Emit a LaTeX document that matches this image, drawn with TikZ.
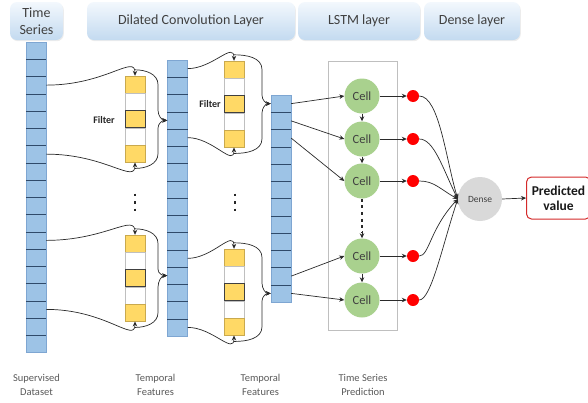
\documentclass[tikz,border=0pt]{standalone}
\usepackage{fontspec}
\setmainfont{Carlito}
\usetikzlibrary{arrows.meta,shadows,calc}

\definecolor{bluecell}{HTML}{9DC3E6}
\definecolor{blueedge}{HTML}{7EA6D2}
\definecolor{bluesep}{HTML}{2F4A6A}
\definecolor{yellowcell}{HTML}{FFD966}
\definecolor{yellowedge}{HTML}{C9A94E}
\definecolor{greyedge}{HTML}{BFBFBF}
\definecolor{cellgreen}{HTML}{A9D18E}
\definecolor{densegrey}{HTML}{D9D9D9}
\definecolor{hdrtop}{HTML}{F3F8FD}
\definecolor{hdrbot}{HTML}{C3DAF0}
\definecolor{txtdark}{HTML}{404040}
\definecolor{txtgrey}{HTML}{595959}
\definecolor{wire}{HTML}{2A2A2A}
\definecolor{predred}{HTML}{D42A2A}

% brace joining the two ends of a filter to one cell of the next column
\newcommand{\drawbrace}[3]{%
  \draw[wire, line width=0.7pt, -{Stealth[length=5pt,width=4.5pt]}]
    ([yshift=6pt]#1-1.north) to[out=0,in=90] (#3,0 |- #1-1.center)
    -- (#3,0 |- #1-3.north) to[out=-90,in=180] (#2.west);
  \draw[wire, line width=0.7pt, -{Stealth[length=5pt,width=4.5pt]}]
    ([yshift=-6pt]#1-5.south) to[out=0,in=-90] (#3,0 |- #1-5.center)
    -- (#3,0 |- #1-3.south) to[out=90,in=180] (#2.west);
}

\begin{document}
\begin{tikzpicture}[x=1pt,y=1pt,
  header/.style={rounded corners=7pt, top color=hdrtop, bottom color=hdrbot,
    minimum height=38pt, text=txtdark, font=\fontsize{14}{17.5}\selectfont,
    align=center, inner sep=0pt,
    drop shadow={opacity=0.15, shadow xshift=0.8pt, shadow yshift=-1.2pt}},
  bcell/.style={rectangle, fill=bluecell, draw=blueedge, line width=0.4pt,
    minimum width=20pt, minimum height=17.25pt, inner sep=0pt},
  ycell/.style={rectangle, fill=yellowcell, draw=yellowedge, line width=0.4pt,
    minimum width=20pt, minimum height=17.25pt, inner sep=0pt},
  ymid/.style={ycell, draw=black!75, line width=0.6pt},
  wcell/.style={rectangle, fill=white, draw=greyedge, line width=0.4pt,
    minimum width=20pt, minimum height=17.25pt, inner sep=0pt},
  sep/.style={bluesep, line width=0.6pt},
  wirearrow/.style={wire, line width=0.7pt, -{Stealth[length=5pt,width=4.5pt]}},
  lstmcell/.style={circle, fill=cellgreen, minimum size=35pt, inner sep=0pt,
    text=txtdark, font=\fontsize{12.5}{14}\selectfont},
  reddot/.style={circle, fill=red, minimum size=12pt, inner sep=0pt},
  filterlbl/.style={font=\bfseries\fontsize{10}{11}\selectfont, text=black!85, inner sep=0pt},
  botlbl/.style={font=\fontsize{10.5}{14}\selectfont, text=txtgrey, align=center, inner sep=0pt},
  ellipsisdots/.style={black!85, line width=2.8pt, dash pattern=on 2.8pt off 4.7pt},
]
\useasboundingbox (0,0) rectangle (588,-402);
\clip (0,0) rectangle (588,-402);

% layer headers
\node[header, minimum width=53pt]  (hts)    at (36.5,-21) {Time\\Series};
\node[header, minimum width=208pt] (hconv)  at (191,-21)  {Dilated Convolution Layer};
\node[header, minimum width=122pt] (hlstm)  at (359,-21)  {LSTM layer};
\node[header, minimum width=96pt]  (hdense) at (472,-21)  {Dense layer};

% input series and the two feature columns
\foreach \i in {1,...,18} \node[bcell] (c1-\i) at (36,{-42-17.25*(\i-0.5)}) {};
\foreach \i in {1,...,17} \draw[sep] (c1-\i.south west) -- (c1-\i.south east);
\foreach \i in {1,...,16} \node[bcell] (c2-\i) at (177.5,{-60-17.25*(\i-0.5)}) {};
\foreach \i in {1,...,15} \draw[sep] (c2-\i.south west) -- (c2-\i.south east);
\foreach \i in {1,...,12} \node[bcell] (c3-\i) at (281,{-95-17.25*(\i-0.5)}) {};
\foreach \i in {1,...,11} \draw[sep] (c3-\i.south west) -- (c3-\i.south east);

% dilated filters
\foreach \f/\x/\t in {f1a/135/76, f1b/135/235, f2a/234/61, f2b/234/249}{
  \foreach \i/\s in {1/ycell, 2/wcell, 3/ymid, 4/wcell, 5/ycell}
    \node[\s] (\f-\i) at (\x,{-\t-17.25*(\i-0.5)}) {};
}
\node[filterlbl] (flbl1) at (104,-120) {Filter};
\node[filterlbl] (flbl2) at (210,-104) {Filter};

% vertical ellipses between the filters
\coordinate (dotsa-top) at (135,-193.5);
\coordinate (dotsa-bot) at (135,-212);
\coordinate (dotsb-top) at (235,-193.5);
\coordinate (dotsb-bot) at (235,-212);
\draw[ellipsisdots] (dotsa-top) -- (dotsa-bot);
\draw[ellipsisdots] (dotsb-top) -- (dotsb-bot);

% series -> first filters
\draw[wirearrow] (c1-3.east)  .. controls +(60,0) and +(0,22)  .. (f1a-1.north);
\draw[wirearrow] (c1-7.east)  .. controls +(60,0) and +(0,-22) .. (f1a-5.south);
\draw[wirearrow] (c1-12.east) .. controls +(60,0) and +(0,22)  .. (f1b-1.north);
\draw[wirearrow] (c1-16.east) .. controls +(60,0) and +(0,-22) .. (f1b-5.south);
\drawbrace{f1a}{c2-4}{158}
\drawbrace{f1b}{c2-13}{158}

% first features -> second filters
\draw[wirearrow] (c2-1.east)  .. controls +(25,0) and +(0,20)  .. (f2a-1.north);
\draw[wirearrow] (c2-5.east)  .. controls +(25,0) and +(0,-20) .. (f2a-5.south);
\draw[wirearrow] (c2-12.east) .. controls +(25,0) and +(0,20)  .. (f2b-1.north);
\draw[wirearrow] (c2-16.east) .. controls +(25,0) and +(0,-20) .. (f2b-5.south);
\drawbrace{f2a}{c3-1}{262}
\drawbrace{f2b}{c3-12}{262}

% LSTM layer
\node[draw=greyedge, line width=0.5pt, minimum width=69pt, minimum height=269pt, inner sep=0pt]
  (lstmbox) at (362.5,-195.5) {};
\foreach \k/\y in {1/96, 2/139, 3/181, 4/256, 5/300}{
  \node[lstmcell] (cell\k) at (362,-\y) {Cell};
  \node[reddot] (dot\k) at (413,-\y) {};
  \draw[wirearrow] (cell\k.east) -- (dot\k.west);
}
\draw[wirearrow] (c3-1.east)  -- (cell1.west);
\draw[wirearrow] (c3-2.east)  -- (cell2.west);
\draw[wirearrow] (c3-3.east)  -- (cell3.west);
\draw[wirearrow] (c3-11.east) -- (cell4.west);
\draw[wirearrow] (c3-12.east) -- (cell5.west);
\draw[wirearrow] (cell1.south) -- (cell2.north);
\draw[wirearrow] (cell2.south) -- (cell3.north);
\draw[wirearrow] (cell4.south) -- (cell5.north);
\draw[wire, line width=2.6pt, dash pattern=on 3pt off 3.6pt] (cell3.south) -- ([yshift=6pt]cell4.north);
\draw[wirearrow] ([yshift=7pt]cell4.north) -- (cell4.north);

% dense layer and output
\node[circle, fill=densegrey, minimum size=44pt, inner sep=0pt, text=txtdark,
  font=\fontsize{9.5}{11}\selectfont] (dense) at (480,-199) {Dense};
\draw[wirearrow] (dot1.east) .. controls +(20,0) and +(-12,40)  .. (dense.west);
\draw[wirearrow] (dot2.east) .. controls +(15,0) and +(-15,30)  .. (dense.west);
\draw[wirearrow] (dot3.east) .. controls +(15,0) and +(-18,10)  .. (dense.west);
\draw[wirearrow] (dot4.east) .. controls +(10,0) and +(-28,-30) .. (dense.west);
\draw[wirearrow] (dot5.east) .. controls +(12,0) and +(-15,-45) .. (dense.west);

\node[draw=predred, line width=1pt, rounded corners=5pt, fill=white,
  minimum width=64pt, minimum height=42pt, align=center, inner sep=0pt,
  font=\bfseries\fontsize{13.5}{15}\selectfont, text=black!90] (pred) at (558.5,-198) {Predicted\\value};
\draw[wirearrow] (dense.east) -- (pred.west);

% captions under the columns
\node[botlbl] (cap1) at (36.5,-385) {Supervised\\Dataset};
\node[botlbl] (cap2) at (155.5,-385) {Temporal\\Features};
\node[botlbl] (cap3) at (260.5,-385) {Temporal\\Features};
\node[botlbl] (cap4) at (363,-385) {Time Series\\Prediction};
\end{tikzpicture}
\end{document}
